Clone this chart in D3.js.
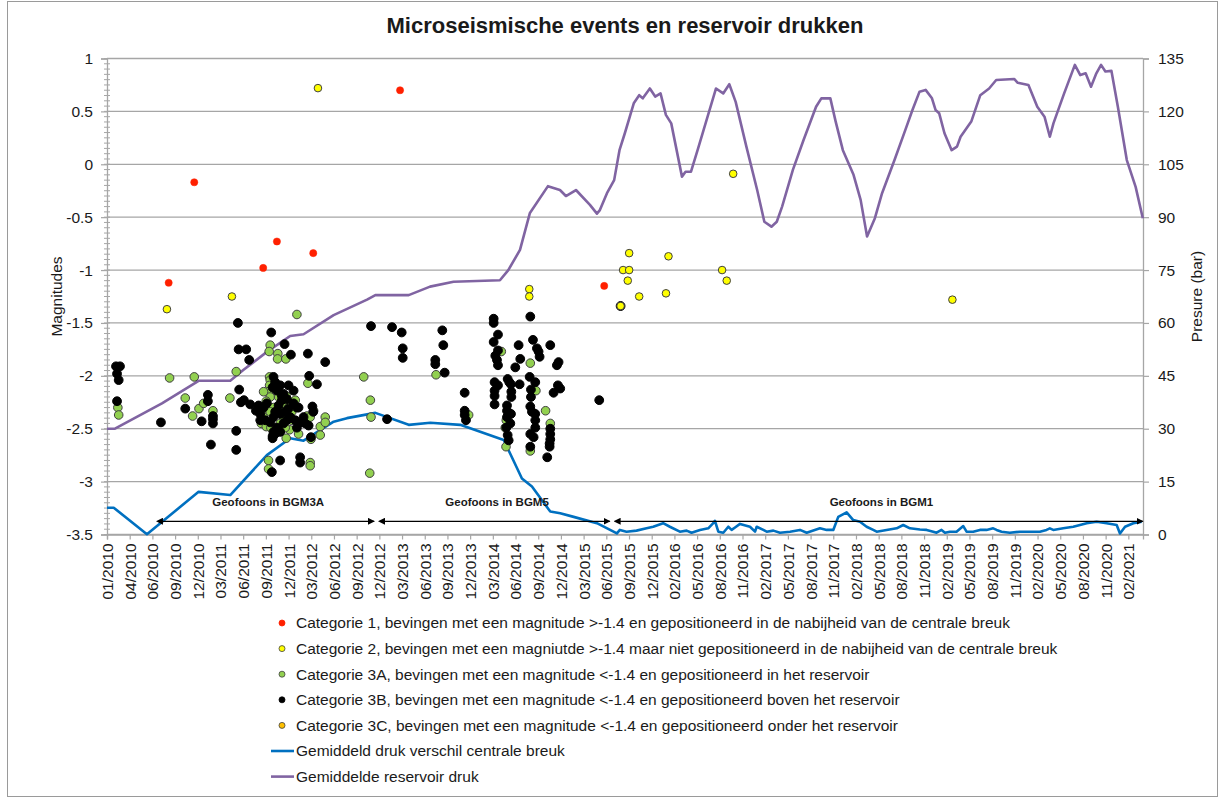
<!DOCTYPE html>
<html>
<head>
<meta charset="utf-8">
<script src="https://cdn.jsdelivr.net/npm/d3@7"></script>
<style>
  body { margin: 0; background: #fff; }
  svg text { font-family: "Liberation Sans", Arial, sans-serif; fill: #1a1a1a; }
</style>
</head>
<body>
<div id="chart"></div>
<script>
// ****************************************************
// data (dates as decimal years)
var magTicks = [1, 0.5, 0, -0.5, -1, -1.5, -2, -2.5, -3, -3.5];
var pressTicks = [0, 15, 30, 45, 60, 75, 90, 105, 120, 135];
var dateTickStepDays = 90;   // excel major unit
var dateStart = 2010.0;
var dateEnd = 2021.247;

// Categorie 1 (red)
var cat1 = [[2010.670,-1.12],[2010.948,-0.17],[2011.697,-0.98],[2011.846,-0.73],
  [2012.240,-0.84],[2013.181,0.70],[2015.399,-1.15]];

// Categorie 2 (yellow)
var cat2 = [[2010.651,-1.37],[2011.357,-1.25],[2012.291,0.72],[2014.585,-1.18],[2014.585,-1.25],
  [2015.577,-1.34],[2015.604,-1.00],[2015.670,-1.00],[2015.670,-0.84],[2015.655,-1.10],
  [2015.779,-1.25],[2016.070,-1.22],[2016.097,-0.87],[2016.678,-1.00],[2016.728,-1.10],
  [2016.798,-0.09],[2019.179,-1.28]];

// Categorie 3A (green)
var cat3A = [[2010.118,-2.30],[2010.127,-2.37],
  [2010.680,-2.02],[2010.948,-2.01],[2010.850,-2.21],[2010.930,-2.38],[2010.999,-2.31],
  [2011.050,-2.26],[2011.151,-2.33],[2011.335,-2.21],[2011.404,-1.96],
  [2011.773,-1.71],[2011.762,-1.77],[2011.856,-1.79],[2011.853,-1.84],[2011.943,-1.84],
  [2012.063,-1.42],[2012.787,-2.01],[2012.182,-2.07],
  [2011.755,-2.80],[2011.755,-2.88],[2012.207,-2.82],[2012.207,-2.85],[2012.316,-2.48],
  [2012.316,-2.56],[2012.370,-2.39],[2012.370,-2.44],[2012.081,-2.55],[2012.171,-2.38],
  [2012.207,-2.39],[2012.244,-2.33],[2012.215,-2.60],
  [2011.766,-2.01],[2011.773,-2.04],[2011.766,-2.09],[2011.755,-2.15],[2011.773,-2.20],
  [2011.730,-2.24],[2011.701,-2.15],[2011.683,-2.33],[2011.701,-2.39],[2011.676,-2.45],
  [2011.730,-2.48],[2011.780,-2.49],[2011.846,-2.30],[2011.882,-2.31],[2011.918,-2.26],
  [2011.947,-2.19],[2011.972,-2.30],[2011.990,-2.36],[2011.918,-2.39],[2012.008,-2.42],
  [2011.882,-2.45],[2011.983,-2.51],[2011.936,-2.49],[2011.809,-2.30],[2011.773,-2.34],
  [2011.864,-2.20],[2012.008,-2.34],[2012.045,-2.23],[2011.947,-2.59],
  [2012.852,-2.92],[2012.859,-2.23],[2012.866,-2.39],[2013.572,-1.99],[2013.926,-2.37],
  [2014.281,-1.77],[2014.335,-2.42],[2014.332,-2.67],[2014.324,-2.49],[2014.596,-1.88],
  [2014.657,-2.14],[2014.596,-2.71],[2014.762,-2.33],[2014.813,-2.45]];

// Categorie 3B (black)
var cat3B = [[2010.098,-1.91],[2010.141,-1.91],[2010.109,-1.98],[2010.127,-2.04],[2010.109,-2.24],
  [2010.586,-2.44],[2010.850,-2.31],[2011.096,-2.18],[2011.096,-2.24],[2011.028,-2.43],
  [2011.151,-2.38],[2011.151,-2.41],[2011.151,-2.45],[2011.129,-2.65],
  [2011.422,-1.50],[2011.430,-1.75],[2011.512,-1.75],[2011.545,-1.85],[2011.436,-2.13],
  [2011.455,-2.25],[2011.487,-2.23],[2011.556,-2.27],[2011.404,-2.52],[2011.404,-2.70],
  [2011.784,-1.59],[2011.929,-1.70],[2011.998,-1.80],[2012.182,-1.79],[2012.370,-1.87],
  [2012.196,-2.00],[2012.280,-2.08],
  [2011.791,-2.91],[2011.881,-2.80],[2012.098,-2.77],[2012.098,-2.82],[2012.231,-2.29],
  [2012.240,-2.34],[2012.063,-2.30],[2012.190,-2.47],[2012.215,-2.58],[2011.799,-2.59],[2011.824,-2.55],
  [2011.809,-2.01],[2011.827,-2.06],[2011.799,-2.11],[2011.846,-2.14],[2011.882,-2.09],
  [2011.918,-2.17],[2011.972,-2.09],[2012.027,-2.14],[2011.900,-2.23],[2011.864,-2.28],
  [2011.827,-2.34],[2011.809,-2.39],[2011.882,-2.36],[2011.936,-2.34],[2011.972,-2.31],
  [2012.027,-2.26],[2012.081,-2.30],[2011.954,-2.42],[2011.918,-2.45],[2011.846,-2.49],
  [2011.809,-2.53],[2011.799,-2.57],[2011.882,-2.53],[2011.990,-2.39],[2012.045,-2.42],
  [2012.099,-2.44],[2012.063,-2.49],[2012.135,-2.39],[2012.153,-2.45],[2011.737,-2.26],
  [2011.701,-2.30],[2011.665,-2.36],[2011.719,-2.42],[2011.773,-2.44],[2011.665,-2.42],
  [2011.647,-2.28],[2011.618,-2.33],[2011.954,-2.22],[2011.900,-2.19],
  [2012.866,-1.53],[2013.094,-1.54],[2013.199,-1.59],[2013.210,-1.74],[2013.210,-1.83],
  [2013.040,-2.41],[2013.640,-1.57],[2013.651,-1.71],[2013.564,-1.85],[2013.564,-1.89],
  [2013.666,-1.97],[2013.883,-2.16],[2013.883,-2.33],[2013.883,-2.37],[2013.897,-2.42],
  [2014.198,-1.46],[2014.198,-1.50],[2014.245,-1.61],[2014.198,-1.68],[2014.245,-1.76],
  [2014.216,-1.81],[2014.234,-1.85],[2014.245,-1.90],[2014.208,-2.06],[2014.245,-2.09],
  [2014.208,-2.14],[2014.208,-2.19],[2014.208,-2.27],[2014.350,-2.03],[2014.368,-2.06],
  [2014.386,-2.08],[2014.390,-2.15],[2014.390,-2.20],[2014.343,-2.28],[2014.343,-2.33],
  [2014.386,-2.36],[2014.343,-2.39],[2014.379,-2.45],[2014.335,-2.49],[2014.350,-2.56],
  [2014.361,-2.61],[2014.469,-1.71],[2014.487,-1.84],[2014.433,-1.92],[2014.480,-2.08],
  [2014.596,-1.44],[2014.625,-1.66],[2014.589,-2.01],[2014.668,-1.74],[2014.686,-1.77],
  [2014.697,-1.82],[2014.650,-2.06],[2014.603,-2.13],[2014.603,-2.20],[2014.596,-2.29],
  [2014.614,-2.34],[2014.650,-2.36],[2014.650,-2.42],[2014.650,-2.49],[2014.596,-2.55],
  [2014.632,-2.58],[2014.596,-2.67],[2014.813,-1.71],[2014.903,-1.87],[2014.885,-1.90],
  [2014.896,-2.09],[2014.921,-2.12],[2014.849,-2.16],[2014.813,-2.50],[2014.813,-2.55],
  [2014.813,-2.60],[2014.806,-2.64],[2014.806,-2.67],[2014.780,-2.77],[2015.345,-2.23],
  [2015.577,-1.34]];

// Categorie 3C (orange) - none visible
var cat3C = [];

// Gemiddeld druk verschil centrale breuk (bar)
var blueLine = [[2010.000,7.6],[2010.073,7.6],[2010.434,0.1],[2010.995,12.1],[2011.339,11.2],
  [2011.737,22.5],[2011.990,27.3],[2012.135,26.6],[2012.461,32.0],[2012.605,33.0],
  [2012.913,34.5],[2013.275,31.1],[2013.510,31.7],[2013.835,31.1],[2014.307,26.8],
  [2014.505,15.9],[2014.614,13.6],[2014.813,6.5],[2014.921,6.0],[2015.067,5.0],
  [2015.320,3.2],[2015.537,0.3],[2015.569,1.3],
  [2015.641,0.8],[2015.750,1.1],[2015.859,1.75],[2015.931,2.2],[2016.039,3.2],[2016.112,2.2],
  [2016.220,0.8],[2016.293,1.1],[2016.347,0.5],[2016.438,1.3],[2016.528,1.75],[2016.582,3.2],
  [2016.600,3.9],[2016.637,0.8],[2016.691,0.5],[2016.745,2.2],[2016.781,1.3],[2016.818,2.0],
  [2016.872,3.0],[2016.980,2.2],[2017.035,0.8],[2017.053,2.2],[2017.125,1.3],[2017.161,0.8],
  [2017.234,1.1],[2017.306,0.5],[2017.415,0.8],[2017.523,1.3],[2017.596,0.5],[2017.740,1.75],
  [2017.813,1.3],[2017.885,1.3],[2017.939,5.0],[2018.030,6.3],[2018.102,4.1],[2018.175,3.6],
  [2018.247,2.2],[2018.319,1.3],[2018.356,0.8],[2018.464,1.3],[2018.573,1.75],[2018.645,2.7],
  [2018.718,1.75],[2018.826,1.4],[2018.899,1.3],[2018.971,0.8],[2019.007,0.5],[2019.061,1.3],
  [2019.098,0.5],[2019.152,0.8],[2019.224,0.8],[2019.297,2.4],[2019.333,0.8],[2019.405,0.8],
  [2019.478,1.3],[2019.550,1.3],[2019.622,1.75],[2019.659,1.3],[2019.713,0.8],[2019.803,0.5],
  [2019.912,0.8],[2020.020,0.8],[2020.129,0.8],[2020.201,1.3],[2020.237,1.75],[2020.274,1.3],
  [2020.382,1.75],[2020.491,2.2],[2020.636,3.2],[2020.744,3.6],[2020.853,3.2],[2020.961,2.7],
  [2020.997,0.3],[2021.052,2.2],[2021.142,3.2],[2021.233,3.6]];

// Gemiddelde reservoir druk (bar)
var purpleLine = [[2010.000,30.0],[2010.087,30.0],[2010.597,37.2],[2010.995,43.6],[2011.339,43.6],
  [2011.484,46.7],[2011.737,51.8],[2011.990,56.3],[2012.135,56.8],[2012.461,62.2],
  [2012.823,66.6],[2012.913,67.9],[2013.275,67.9],[2013.507,70.3],[2013.762,71.7],
  [2014.266,72.1],[2014.357,75.0],[2014.484,80.7],[2014.592,91.2],[2014.788,98.8],
  [2014.918,97.7],[2014.983,96.0],[2015.092,97.7],[2015.244,93.5],[2015.320,91.0],
  [2015.352,92.0],[2015.429,96.8],[2015.507,100.5],[2015.565,109.0],[2015.623,113.8],
  [2015.720,122.3],[2015.779,124.6],[2015.818,123.7],[2015.895,126.5],[2015.953,124.2],
  [2016.011,125.1],[2016.069,119.0],[2016.127,116.6],[2016.243,101.5],[2016.282,102.9],
  [2016.341,102.9],[2016.418,109.5],[2016.477,114.7],[2016.612,126.5],[2016.690,125.1],
  [2016.756,127.7],[2016.825,122.7],[2016.941,110.0],[2017.058,97.7],[2017.136,88.7],
  [2017.213,87.3],[2017.271,88.7],[2017.329,93.0],[2017.446,103.4],[2017.562,111.9],
  [2017.698,121.3],[2017.755,123.7],[2017.853,123.7],[2017.911,117.1],[2017.989,109.0],
  [2018.105,102.0],[2018.182,94.9],[2018.252,84.5],[2018.337,89.7],[2018.415,96.8],
  [2018.550,106.2],[2018.667,114.7],[2018.745,120.4],[2018.822,125.6],[2018.888,126.1],
  [2018.957,123.7],[2018.996,120.4],[2019.035,119.5],[2019.093,113.8],[2019.171,109.0],
  [2019.229,110.0],[2019.268,112.8],[2019.384,117.1],[2019.482,124.6],[2019.578,126.5],
  [2019.655,128.9],[2019.850,129.2],[2019.889,128.1],[2020.005,127.5],[2020.101,121.3],
  [2020.179,118.5],[2020.237,112.8],[2020.276,116.6],[2020.392,125.1],[2020.508,133.2],
  [2020.567,130.3],[2020.625,130.8],[2020.683,127.0],[2020.741,130.8],[2020.792,133.2],
  [2020.839,131.3],[2020.904,131.5],[2020.974,121.3],[2021.071,106.2],[2021.167,98.6],
  [2021.245,89.7]];

// geofoon periods [start, end, label]
var geofoons = [[2010.60, 2012.90, "Geofoons in BGM3A"],
                [2013.01, 2015.46, "Geofoons in BGM5"],
                [2015.57, 2021.245, "Geofoons in BGM1"]];

var legendLabels = [
  "Categorie 1, bevingen met een magnitude >-1.4 en gepositioneerd in de nabijheid van de centrale breuk",
  "Categorie 2, bevingen met een magniutde >-1.4 maar niet gepositioneerd in de nabijheid van de centrale breuk",
  "Categorie 3A, bevingen met een magnitude <-1.4 en gepositioneerd in het reservoir",
  "Categorie 3B, bevingen met een magnitude <-1.4 en gepositioneerd boven het reservoir",
  "Categorie 3C, bevingen met een magnitude <-1.4 en gepositioneerd onder het reservoir",
  "Gemiddeld druk verschil centrale breuk",
  "Gemiddelde reservoir druk"
];

// ****************************************************
// setup the svg area
var svgWidth = 1222;
var svgHeight = 800;
var margin = { top: 58.5, right: 79, bottom: 265.5, left: 107 };
var width = svgWidth - margin.left - margin.right;
var height = svgHeight - margin.top - margin.bottom;

var gridColor = "#a6a6a6";

var svg = d3.select("#chart").append("svg")
    .attr("width", svgWidth)
    .attr("height", svgHeight);

// outer chart border
svg.append("rect")
    .attr("x", 7.5).attr("y", 1.5)
    .attr("width", 1210).attr("height", 795)
    .attr("fill", "none").attr("stroke", "#9a9a9a");

function yearToDate(y) {
  var yr = Math.floor(y);
  var a = new Date(yr, 0, 1), b = new Date(yr + 1, 0, 1);
  return new Date(+a + (y - yr) * (b - a));
}

var chart = svg.append("g")
    .attr("transform", `translate(${margin.left},${margin.top})`);

// ****************************************************
// scales
var xScale = d3.scaleTime()
    .domain([yearToDate(dateStart), yearToDate(dateEnd)])
    .range([0, width]);
var yMag = d3.scaleLinear().domain([-3.5, 1]).range([height, 0]);
var yPress = d3.scaleLinear().domain([0, 135]).range([height, 0]);

// 90 day ticks from 01/01/2010
var dateTicks = d3.range(0, 46).map(function(i) {
  return d3.timeDay.offset(yearToDate(dateStart), i * dateTickStepDays);
});

// gridlines
chart.append("g").selectAll("line")
    .data(magTicks).enter().append("line")
    .attr("x1", 0).attr("x2", width)
    .attr("y1", d => yMag(d)).attr("y2", d => yMag(d))
    .attr("stroke", gridColor).attr("stroke-width", 1.3);

// ****************************************************
// axes
var leftAxis = chart.append("g")
    .call(d3.axisLeft(yMag).tickValues(magTicks).tickSize(6).tickPadding(8)
      .tickFormat(d => String(d)));
// minor ticks every 0.05
chart.append("g").selectAll("line")
    .data(d3.range(0, 91).map(i => -3.5 + i * 0.05)).enter().append("line")
    .attr("x1", -3).attr("x2", 3)
    .attr("y1", d => yMag(d)).attr("y2", d => yMag(d))
    .attr("stroke", gridColor).attr("stroke-width", 1);

var rightAxis = chart.append("g")
    .attr("transform", `translate(${width},0)`)
    .call(d3.axisRight(yPress).tickValues(pressTicks).tickSize(6).tickPadding(9));

var bottomAxis = chart.append("g")
    .attr("transform", `translate(0,${height})`)
    .call(d3.axisBottom(xScale).tickValues(dateTicks).tickSize(5)
      .tickFormat(d3.timeFormat("%m/%Y")));

bottomAxis.selectAll("text")
    .attr("x", 0).attr("y", 0).attr("dy", "0.35em")
    .attr("transform", "translate(0,9) rotate(-90)")
    .style("text-anchor", "end");

[leftAxis, rightAxis, bottomAxis].forEach(function(ax) {
  ax.select(".domain").attr("stroke", gridColor).attr("stroke-width", 1.3);
  ax.selectAll(".tick line").attr("stroke", gridColor).attr("stroke-width", 1.2);
  ax.selectAll("text").attr("fill", "#1a1a1a").style("font-size", "15.5px")
    .style("font-family", '"Liberation Sans", Arial, sans-serif');
});

// axis titles
svg.append("text")
    .attr("transform", `translate(62,${margin.top + height / 2}) rotate(-90)`)
    .attr("text-anchor", "middle")
    .style("font-size", "15.5px")
    .text("Magnitudes");

svg.append("text")
    .attr("transform", `translate(1202,${margin.top + height / 2}) rotate(-90)`)
    .attr("text-anchor", "middle")
    .style("font-size", "15.5px")
    .text("Presure (bar)");

// title
svg.append("text")
    .attr("x", margin.left + width / 2)
    .attr("y", 33)
    .attr("text-anchor", "middle")
    .style("font-size", "22px")
    .style("font-weight", "bold")
    .text("Microseismische events en reservoir drukken");

// ****************************************************
// lines
var pressLine = d3.line()
    .x(d => xScale(yearToDate(d[0])))
    .y(d => yPress(d[1]));

chart.append("path").datum(purpleLine)
    .attr("d", pressLine)
    .attr("fill", "none").attr("stroke", "#8064a2").attr("stroke-width", 2.6)
    .attr("stroke-linejoin", "round");

chart.append("path").datum(blueLine)
    .attr("d", pressLine)
    .attr("fill", "none").attr("stroke", "#0070c0").attr("stroke-width", 2.6)
    .attr("stroke-linejoin", "round");

// ****************************************************
// geofoon arrows
var defs = svg.append("defs");
["start", "end"].forEach(function(k) {
  defs.append("marker")
      .attr("id", "arrow-" + k)
      .attr("viewBox", "0 0 10 10")
      .attr("refX", k === "end" ? 9 : 1).attr("refY", 5)
      .attr("markerWidth", 7).attr("markerHeight", 7)
      .attr("markerUnits", "userSpaceOnUse")
      .attr("orient", "auto-start-reverse")
      .append("path").attr("d", "M0,0 L10,5 L0,10 z").attr("fill", "#000");
});

var geo = chart.append("g").selectAll("g").data(geofoons).enter().append("g");
geo.append("line")
    .attr("x1", d => xScale(yearToDate(d[0])))
    .attr("x2", d => xScale(yearToDate(d[1])))
    .attr("y1", yMag(-3.375)).attr("y2", yMag(-3.375))
    .attr("stroke", "#000").attr("stroke-width", 1.3)
    .attr("marker-start", "url(#arrow-start)")
    .attr("marker-end", "url(#arrow-end)");
geo.append("text")
    .attr("x", d => (xScale(yearToDate(d[0])) + xScale(yearToDate(d[1]))) / 2)
    .attr("y", yMag(-3.23))
    .attr("text-anchor", "middle")
    .style("font-size", "11.5px").style("font-weight", "bold")
    .text(d => d[2]);

// ****************************************************
// scatter points
var series = [
  { data: cat1, fill: "#ff2000", stroke: "#ff2000", r: 3.6, sw: 0.5 },
  { data: cat2, fill: "#ffff00", stroke: "#404040", r: 3.8, sw: 1 },
  { data: cat3A, fill: "#92d050", stroke: "#404040", r: 4.3, sw: 1 },
  { data: cat3B, fill: "#000000", stroke: "#000000", r: 4.4, sw: 1 },
  { data: cat3C, fill: "#ffc000", stroke: "#404040", r: 4.3, sw: 1 }
];

// draw order: 3A, 3B, 3C below 1 and 2
[2, 3, 4, 1, 0].forEach(function(k) {
  var s = series[k];
  chart.append("g").selectAll("circle")
      .data(s.data).enter().append("circle")
      .attr("cx", d => xScale(yearToDate(d[0])))
      .attr("cy", d => yMag(d[1]))
      .attr("r", s.r)
      .attr("fill", s.fill)
      .attr("stroke", s.stroke)
      .attr("stroke-width", s.sw);
});

// ****************************************************
// legend
var legendX = 282;
var legendY = 623;
var legendStep = 25.6;
var legend = svg.append("g");

legendLabels.forEach(function(label, i) {
  var y = legendY + i * legendStep;
  if (i < 5) {
    var s = series[i];
    legend.append("circle")
        .attr("cx", legendX).attr("cy", y)
        .attr("r", 3).attr("fill", s.fill)
        .attr("stroke", s.stroke).attr("stroke-width", 0.8);
  } else {
    legend.append("line")
        .attr("x1", 271).attr("x2", 294)
        .attr("y1", y).attr("y2", y)
        .attr("stroke", i === 5 ? "#0070c0" : "#8064a2")
        .attr("stroke-width", 2.6);
  }
  legend.append("text")
      .attr("x", 296).attr("y", y)
      .attr("dy", "0.35em")
      .style("font-size", "15.5px")
      .text(label);
});
</script>
</body>
</html>
